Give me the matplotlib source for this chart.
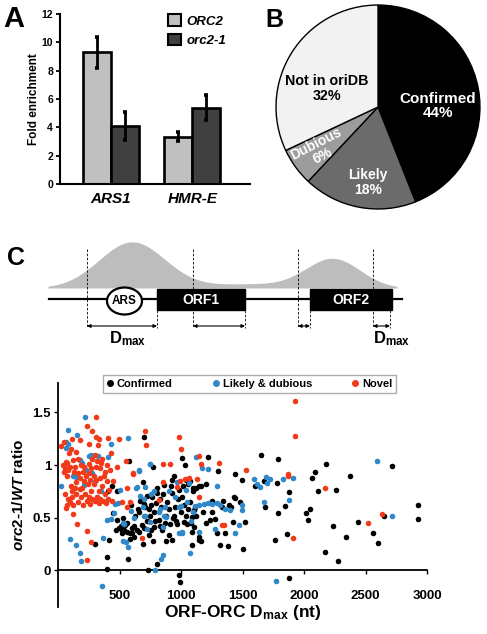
import numpy as np
import matplotlib
matplotlib.use('Agg')
import matplotlib.pyplot as plt
from matplotlib.patches import Ellipse, Rectangle, Patch
from matplotlib.lines import Line2D

plt.rcParams['font.family'] = ['Liberation Sans', 'DejaVu Sans']
plt.rcParams['font.weight'] = 'bold'
plt.rcParams['axes.labelweight'] = 'bold'
plt.rcParams['mathtext.fontset'] = 'custom'
plt.rcParams['mathtext.rm'] = 'Liberation Sans:bold'
plt.rcParams['mathtext.bf'] = 'Liberation Sans:bold'
plt.rcParams['mathtext.it'] = 'Liberation Sans:bold:italic'

# ---------------- Panel A data ----------------
loci = ['ARS1', 'HMR-E']
strains = ['ORC2', 'orc2-1']
fold_orc2 = [9.3, 3.35]
fold_orc2_err = [1.1, 0.3]
fold_orc21 = [4.1, 5.4]
fold_orc21_err = [1.0, 0.9]

# ---------------- Panel B data ----------------
pie_labels = ['Confirmed', 'Likely', 'Dubious', 'Not in oriDB']
pie_pct = [44, 18, 6, 32]

# ---------------- Panel C scatter data (Dmax nt, orc2-1/WT ratio) ----------------
confirmed_pts = [
    (300, 0.25), (400, 0.016), (414, 0.29), (400, 0.13), (446, 0.54), (495, 0.40), (522, 0.35),
    (589, 0.35), (597, 0.62), (570, 0.11), (616, 0.32), (657, 0.36), (684, 0.43), (689, 0.25),
    (697, 0.63), (725, 0.71), (733, 0.0), (738, 0.33), (771, 0.28), (779, 0.41), (792, 0.47),
    (846, 0.38), (874, 0.28), (900, 0.33), (914, 0.44), (806, 0.06), (744, 0.52), (765, 0.70),
    (806, 0.73), (581, 1.04), (698, 1.27), (770, 0.98), (690, 0.84), (806, 0.78), (860, 0.81),
    (927, 0.86), (440, 0.80), (408, 0.75), (482, 0.48), (474, 0.38), (482, 0.75), (510, 0.42),
    (540, 0.38), (560, 0.45), (600, 0.40), (630, 0.52), (650, 0.58), (670, 0.66), (710, 0.60),
    (720, 0.47), (740, 0.58), (760, 0.62), (780, 0.55), (800, 0.64), (820, 0.48), (830, 0.68),
    (840, 0.60), (850, 0.72), (870, 0.45), (880, 0.52), (890, 0.65), (905, 0.58), (920, 0.80),
    (935, 0.50), (950, 0.60), (960, 0.47), (975, 0.68), (985, 0.76), (1000, 0.55), (1015, 0.80),
    (1025, 0.62), (1040, 0.52), (1060, 0.58), (1075, 0.85), (1085, 0.45), (1100, 0.78),
    (1110, 0.60), (1120, 0.52), (1150, 0.80), (1180, 0.55), (1200, 0.82),
    (928, 0.73), (1009, 0.70), (1098, 0.75), (1077, 0.65), (1103, 0.57), (941, 0.52), (968, 0.44),
    (1022, 0.46), (1049, 0.44), (1090, 0.51), (1103, 0.41), (1090, 0.36), (928, 0.29),
    (1090, 0.24), (1144, 0.29), (1252, 0.66), (1239, 0.48), (1279, 0.49), (1293, 0.35),
    (1314, 0.24), (1360, 0.35), (1382, 0.23), (1387, 0.62), (1428, 0.70), (1482, 0.65),
    (1523, 0.46), (1504, 0.20), (1685, 0.60), (1788, 0.54), (1766, 0.29), (1861, 0.34),
    (1874, -0.07), (982, -0.05), (995, -0.11),
    (1011, 1.07), (1036, 1.0), (1217, 1.08), (1298, 0.94), (1436, 0.91), (1496, 0.86),
    (1650, 1.10), (1785, 1.06), (1780, 0.83), (1677, 0.85), (940, 0.90), (1040, 0.86),
    (1060, 0.82), (1120, 0.78), (1160, 0.80),
    (2177, 1.01), (2091, 0.93), (2064, 0.88), (2375, 0.90), (2713, 0.99), (1880, 0.74),
    (2110, 0.75), (2259, 0.76), (1847, 0.61), (2015, 0.54), (2050, 0.58), (2031, 0.48),
    (2234, 0.42), (2172, 0.17), (2343, 0.32), (2275, 0.09), (2437, 0.46), (2564, 0.35),
    (2605, 0.26), (2651, 0.52), (2925, 0.62), (2930, 0.49),
    (1599, 0.80), (1440, 0.69), (1146, 0.32), (1160, 0.28), (1200, 0.45), (1250, 0.55),
    (1330, 0.60), (1420, 0.46), (1410, 0.60), (1340, 0.66),
    (520, 0.38), (545, 0.43), (560, 0.36), (605, 0.35), (620, 0.42), (640, 0.38), (530, 0.50),
    (585, 0.30), (660, 0.55), (700, 0.40), (760, 0.38), (830, 0.42),
]

likely_pts = [
    (80, 1.33), (218, 1.46), (62, 1.22), (62, 1.16), (251, 1.09), (327, 1.09), (408, 1.08),
    (427, 1.20), (570, 1.26), (197, 1.02), (300, 0.85), (148, 0.89), (657, 0.95), (744, 1.01),
    (21, 0.80), (211, 0.81), (635, 0.78), (84, 1.20), (157, 1.29), (266, 1.10), (180, 1.05),
    (230, 0.95), (120, 0.90), (280, 0.92), (350, 0.75), (320, 0.70),
    (94, 0.30), (149, 0.24), (175, 0.16), (183, 0.085), (359, -0.15), (365, 0.31), (400, 0.48),
    (428, 0.49), (455, 0.54), (462, 0.63), (504, 0.76), (488, 0.64), (531, 0.28), (572, 0.22),
    (536, 0.44), (554, 0.27), (531, 0.45),
    (659, 0.94), (642, 0.79), (669, 0.71), (705, 0.79), (694, 0.60), (697, 0.52), (707, 0.52),
    (726, 0.39), (748, 1.01), (833, 0.58), (860, 0.52), (852, 0.14), (841, 0.11), (792, 0.0),
    (856, 0.41), (881, 0.51), (1011, 0.35), (982, 0.35), (1009, 0.36), (997, 0.61), (982, 0.60),
    (1043, 0.76), (1119, 1.08), (1171, 0.97), (1217, 0.96), (1293, 0.80), (968, 0.84),
    (1063, 0.83), (1084, 0.47), (1077, 0.16), (1144, 0.36), (1279, 0.39),
    (1117, 0.61), (1150, 0.62), (1185, 0.63), (1220, 0.64), (1255, 0.63), (1290, 0.64),
    (1320, 0.62), (1360, 0.58), (1401, 0.57), (1495, 0.57), (1495, 0.62), (1469, 0.43),
    (1442, 0.35),
    (1590, 0.87), (1617, 0.82), (1644, 0.79), (1690, 0.89), (1725, 0.87), (1826, 0.87),
    (1698, 0.83), (1671, 0.65), (1774, -0.10), (1907, 0.88), (1880, 0.67), (2591, 1.04),
    (2718, 0.52),
    (780, 0.75), (900, 0.75), (950, 0.70), (760, 0.72), (820, 0.55), (870, 0.60), (1050, 0.65),
    (1100, 0.55), (620, 0.50), (590, 0.56), (750, 0.46), (700, 0.68),
]

novel_pts = [
    (22, 1.18), (49, 1.22), (108, 1.15), (116, 1.25), (175, 1.24), (232, 1.37), (305, 1.46),
    (278, 1.32), (305, 1.27), (332, 1.25), (324, 1.19), (251, 1.20), (408, 1.26), (495, 1.25),
    (89, 1.11), (165, 1.06), (62, 1.03), (48, 0.93), (75, 0.90), (94, 0.98), (143, 0.84),
    (211, 0.98), (251, 1.01), (278, 1.06), (305, 0.98), (319, 1.04), (359, 1.06), (386, 0.93),
    (427, 1.11), (481, 0.98), (102, 0.80), (116, 0.75), (197, 0.78), (265, 0.75), (332, 0.75),
    (414, 0.76),
    (40, 1.00), (55, 0.97), (70, 1.02), (85, 0.95), (125, 1.05), (130, 0.93), (140, 0.98),
    (150, 1.12), (160, 0.92), (180, 0.88), (185, 1.00), (200, 0.93), (215, 0.85), (230, 0.90),
    (240, 0.82), (255, 0.92), (262, 0.86), (270, 0.97), (290, 0.90), (295, 0.82), (300, 1.10),
    (310, 0.86), (340, 0.97), (345, 0.88), (350, 1.02), (360, 0.80), (370, 0.90), (380, 0.72),
    (395, 1.00), (400, 0.85), (410, 0.68), (420, 0.95), (440, 0.66), (450, 0.85),
    (60, 0.72), (80, 0.68), (95, 0.65), (110, 0.70), (125, 0.62), (135, 0.78), (150, 0.72),
    (165, 0.65), (175, 0.77), (190, 0.70), (205, 0.62), (220, 0.72), (235, 0.66), (250, 0.70),
    (260, 0.63), (280, 0.68), (300, 0.66), (315, 0.70), (330, 0.64), (345, 0.68), (365, 0.66),
    (390, 0.64),
    (75, 0.62), (121, 0.53), (156, 0.44), (238, 0.37), (265, 0.27), (238, 0.10), (62, 0.59),
    (550, 1.04), (612, 0.92), (564, 0.78), (585, 0.65), (522, 0.65), (562, 0.60), (684, 0.31),
    (706, 1.32), (717, 1.19), (852, 1.01), (914, 1.01), (608, 0.91), (987, 1.27), (1001, 1.15),
    (1144, 1.09), (1160, 1.01), (1307, 1.02), (1531, 0.95), (1866, 0.90), (995, 0.85),
    (1030, 0.87), (1062, 0.88), (968, 0.79), (1144, 0.70), (1333, 0.43), (1347, 0.43),
    (854, 0.84), (821, 0.67), (1929, 1.61), (1929, 1.28), (1869, 0.91), (2172, 0.78),
    (1910, 0.31), (2523, 0.45), (2632, 0.53), (1130, 0.87),
]
series_names = ['Confirmed', 'Likely & dubious', 'Novel']
series_colors = ['#000000', '#2e88c9', '#f23a1a']

W, H = 487, 634
fig = plt.figure(figsize=(W / 100, H / 100), dpi=100)


def rect(x0, y0, x1, y1):
    return [x0 / W, 1 - y1 / H, (x1 - x0) / W, (y1 - y0) / H]


# ================= Panel A =================
axA = fig.add_axes(rect(60, 14, 250, 184))
x = np.arange(len(loci))
w = 0.344
kw = dict(edgecolor='black', linewidth=1.9, zorder=2)
axA.bar(x - w / 2, fold_orc2, w, color='#c0c0c0', **kw)
axA.bar(x + w / 2, fold_orc21, w, color='#404040', **kw)
for xs, vals, errs in [(x - w / 2, fold_orc2, fold_orc2_err), (x + w / 2, fold_orc21, fold_orc21_err)]:
    axA.errorbar(xs, vals, yerr=errs, fmt='none', ecolor='black', elinewidth=2,
                 capsize=1.6, capthick=2.6, zorder=3)
axA.set_xlim(-0.62, 1.706)
axA.set_ylim(0, 12)
axA.set_yticks(range(0, 13, 2))
axA.tick_params(axis='y', direction='out', length=3, width=1.3, labelsize=7.5, pad=2)
axA.set_xticks(x)
axA.set_xticklabels(loci, fontsize=11, style='italic')
axA.tick_params(axis='x', length=0, pad=6)
for s in ['top', 'right']:
    axA.spines[s].set_visible(False)
for s in ['left', 'bottom']:
    axA.spines[s].set_linewidth(1.5)
axA.set_ylabel('Fold enrichment', fontsize=8.5, labelpad=1)
handles = [Patch(facecolor='#c0c0c0', edgecolor='black', linewidth=1.5),
           Patch(facecolor='#404040', edgecolor='black', linewidth=1.5)]
axA.legend(handles, strains, loc='upper left', bbox_to_anchor=(0.54, 1.03), frameon=False,
           prop=dict(size=9.5, style='italic', weight='bold'), handlelength=1.0, handleheight=1.0,
           handletextpad=0.4, labelspacing=0.45, borderaxespad=0)
fig.text(3 / W, 1 - 5 / H, 'A', fontsize=21, fontweight='bold', va='top', ha='left')

# ================= Panel B =================
axB = fig.add_axes(rect(275, 4, 481, 210))
pie_colors = ['#000000', '#6b6b6b', '#9c9c9c', '#f2f2f2']
wedges, _ = axB.pie(pie_pct, colors=pie_colors, startangle=90, counterclock=False,
                    wedgeprops=dict(edgecolor='black', linewidth=1.0))
axB.set_xlim(-1.01, 1.01)
axB.set_ylim(-1.01, 1.01)
for wd in wedges:
    wd.set_clip_on(False)
txt = dict(ha='center', va='center', fontweight='bold', linespacing=1.05)
axB.text(0.59, 0.01, f'{pie_labels[0]}\n{pie_pct[0]}%', color='white', fontsize=11, **txt)
axB.text(-0.10, -0.74, f'{pie_labels[1]}\n{pie_pct[1]}%', color='white', fontsize=10, **txt)
axB.text(-0.58, -0.42, f'{pie_labels[2]}\n{pie_pct[2]}%', color='white', rotation=27,
         fontsize=10, **txt)
axB.text(-0.50, 0.18, f'{pie_labels[3]}\n{pie_pct[3]}%', color='black', fontsize=10.3, **txt)
fig.text(265 / W, 1 - 8 / H, 'B', fontsize=18, fontweight='bold', va='top', ha='left')

# ================= Panel C schematic =================
axC = fig.add_axes(rect(0, 235, W, 350))
axC.set_xlim(0, W)
axC.set_ylim(350, 235)
axC.axis('off')
base = 288
xs = np.linspace(48, 397, 500)
prof = (46 * np.exp(-0.5 * ((xs - 132) / 33) ** 2)
        + 29 * np.exp(-0.5 * ((xs - 333) / 27) ** 2)
        + 4 * np.exp(-0.5 * ((xs - 250) / 45) ** 2))
axC.fill_between(xs, base, base - prof, color='#bdbdbd', lw=0, zorder=1)
axC.plot([49, 402], [299, 299], color='black', lw=1.6, zorder=2)
axC.add_patch(Rectangle((157, 289), 88, 21, color='black', zorder=3))
axC.add_patch(Rectangle((310, 289), 82, 21, color='black', zorder=3))
axC.add_patch(Ellipse((124.5, 301), 35, 27, facecolor='white', edgecolor='black', lw=1.6, zorder=3))
axC.text(124.5, 301, 'ARS', ha='center', va='center', fontsize=8.5, zorder=4)
axC.text(201, 300, 'ORF1', ha='center', va='center', fontsize=10, color='white', zorder=4)
axC.text(351, 300, 'ORF2', ha='center', va='center', fontsize=10, color='white', zorder=4)
dash = dict(color='black', lw=0.6, ls=(0, (3, 2)), zorder=2)
for xv in [87, 193, 298, 373]:
    axC.plot([xv, xv], [249, 328], **dash)
for xv in [157, 245, 310, 390]:
    axC.plot([xv, xv], [310, 328], **dash)
for a, b in [(87, 157), (193, 245), (298, 310), (373, 390)]:
    axC.annotate('', xy=(b, 326), xytext=(a, 326),
                 arrowprops=dict(arrowstyle='<|-|>', color='black', lw=0.8,
                                 mutation_scale=5, shrinkA=0, shrinkB=0))
axC.text(128, 339, r'D$_\mathrm{max}$', ha='center', va='center', fontsize=12)
axC.text(392, 339, r'D$_\mathrm{max}$', ha='center', va='center', fontsize=12)
fig.text(7 / W, 1 - 246 / H, 'C', fontsize=18, fontweight='bold', va='top', ha='left')

# ================= Panel C scatter =================
axS = fig.add_axes(rect(58, 383, 427, 607))
for pts, name, col in zip([confirmed_pts, likely_pts, novel_pts], series_names, series_colors):
    arr = np.array(pts)
    axS.scatter(arr[:, 0], arr[:, 1], s=16, color=col, linewidths=0, label=name, zorder=3)
axS.set_xlim(0, 3000)
axS.set_ylim(-0.35, 1.78)
axS.spines['bottom'].set_position(('data', 0))
for s in ['top', 'right']:
    axS.spines[s].set_visible(False)
axS.spines['left'].set_linewidth(1.3)
axS.spines['bottom'].set_linewidth(1.3)
axS.set_xticks([500, 1000, 1500, 2000, 2500, 3000])
axS.set_yticks([0, 0.5, 1, 1.5])
axS.set_yticklabels(['0', '0.5', '1', '1.5'])
axS.tick_params(axis='x', direction='out', length=3, width=1, labelsize=9.5, pad=11)
axS.tick_params(axis='y', direction='out', length=3, width=1, labelsize=9.5, pad=2)
axS.set_xlabel(r'ORF-ORC D$_\mathrm{max}$ (nt)', fontsize=12.5, labelpad=1)
axS.set_ylabel(r'$\mathit{orc2}$-$\mathit{1/WT}$ ratio', fontsize=11, labelpad=5)
hs = [Line2D([], [], marker='o', ls='none', color=c, markersize=4) for c in series_colors]
leg = fig.legend(hs, series_names, loc='lower left', mode='expand', ncol=3,
                 bbox_to_anchor=(103 / W, 1 - 393 / H, 293 / W, 22 / H),
                 fontsize=8, frameon=True, fancybox=False, handlelength=0.6,
                 handletextpad=0.3, borderpad=0.35, borderaxespad=0)
leg.get_frame().set_edgecolor('#999999')
leg.get_frame().set_linewidth(1.0)

fig.savefig('out.png', dpi=100)
